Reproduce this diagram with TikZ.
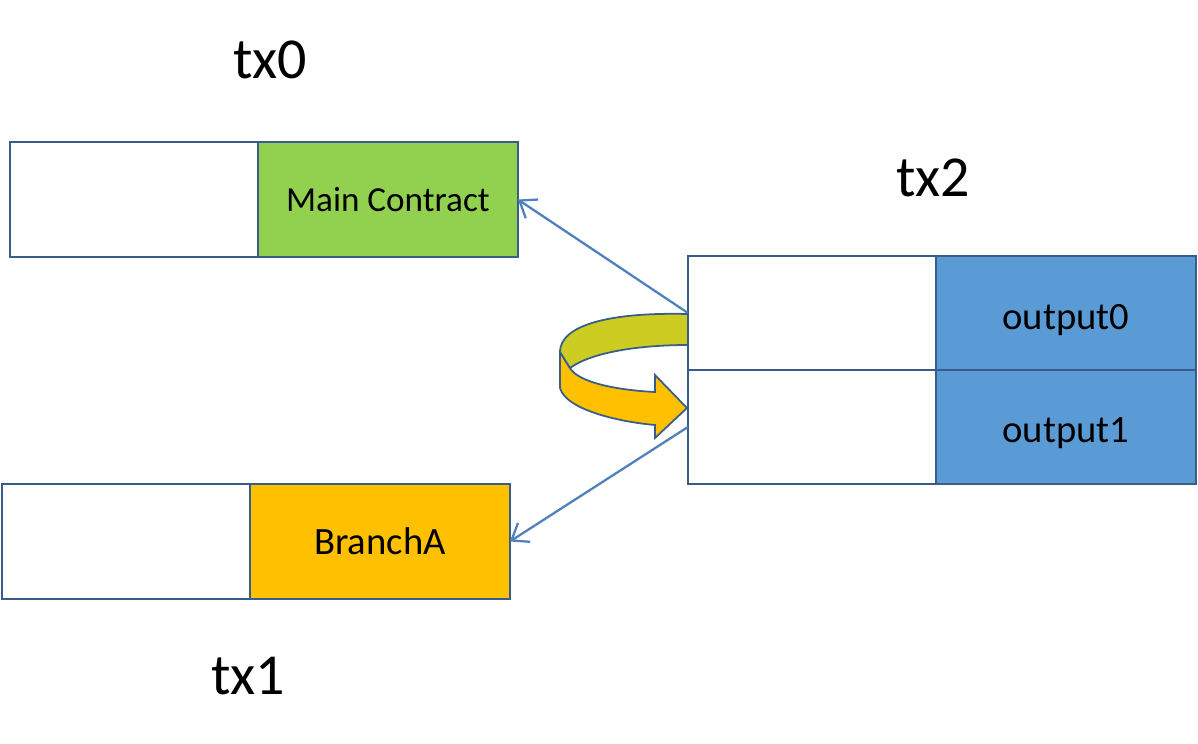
\documentclass[tikz,border=0pt]{standalone}
\usepackage{fontspec}
\setmainfont{Carlito}
\usetikzlibrary{positioning,arrows.meta}
\definecolor{cellborder}{RGB}{56,93,138}
\definecolor{linkblue}{RGB}{79,129,189}
\definecolor{contractgreen}{RGB}{146,208,80}
\definecolor{branchgold}{RGB}{255,192,0}
\definecolor{outblue}{RGB}{91,155,213}
\definecolor{ribbonolive}{RGB}{204,204,34}

\begin{document}
\begin{tikzpicture}[x=0.02cm,y=-0.02cm,
  cell/.style={draw=cellborder,line width=1.1pt,inner sep=0pt,outer sep=0pt,
    minimum height=2.3cm,anchor=north west},
  keycell/.style={cell,fill=white,minimum width=4.96cm},
  valcell/.style={cell,minimum width=5.2cm,font=\fontsize{22}{26}\selectfont},
  txlabel/.style={font=\fontsize{33}{40}\selectfont},
  link/.style={linkblue,line width=1.3pt,-{Straight Barb[length=3mm,width=4.5mm]}}]
  \useasboundingbox (0,0) rectangle (1198,744);
  % tx0: empty input cell + contract output
  \node[keycell] (tx0k) at (10,142) {};
  \node[valcell,fill=contractgreen,font=\fontsize{20}{24}\selectfont,
    right=0pt of tx0k] (tx0v) {Main Contract};
  \node[txlabel] (tx0lbl) at (270,60) {tx0};
  % tx1
  \node[keycell] (tx1k) at (2,484) {};
  \node[valcell,fill=branchgold,right=0pt of tx1k] (tx1v) {BranchA};
  \node[txlabel] (tx1lbl) at (248,676) {tx1};
  % tx2: two rows, stacked
  \node[keycell,minimum height=2.28cm] (tx2k0) at (688,256) {};
  \node[valcell,fill=outblue,minimum height=2.28cm,right=0pt of tx2k0] (tx2v0)
    {\raisebox{-0.14cm}[\height][\depth]{output0}};
  \node[keycell,minimum height=2.28cm,below=0pt of tx2k0] (tx2k1) {};
  \node[valcell,fill=outblue,minimum height=2.28cm,right=0pt of tx2k1] (tx2v1)
    {\raisebox{-0.12cm}[\height][\depth]{output1}};
  \node[txlabel] (tx2lbl) at (933,178) {tx2};
  % spends
  \draw[link] (tx2k0.west) -- (tx0v.east);
  \draw[link] (tx2k1.west) -- (tx1v.east);
  % turning ribbon arrow from output0 round to output1
  \filldraw[fill=branchgold,draw=cellborder,line width=1pt]
    (560,352) -- (560,388) .. controls (566,410) and (620,422) .. (655,425)
    -- (655,438) -- (687,408) -- (655,375) -- (655,392)
    .. controls (615,390) and (578,382) .. (570,368) -- cycle;
  \filldraw[fill=ribbonolive,draw=cellborder,line width=1pt]
    (688,314) .. controls (610,312) and (560,325) .. (560,352)
    -- (570,368) .. controls (592,352) and (640,345) .. (688,345) -- cycle;
\end{tikzpicture}
\end{document}
